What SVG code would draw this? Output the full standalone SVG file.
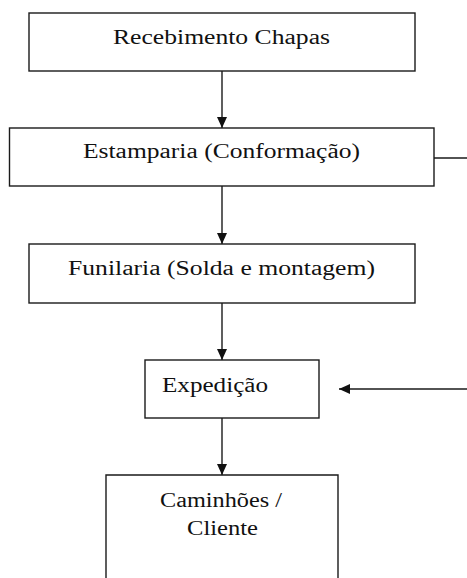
<svg xmlns="http://www.w3.org/2000/svg" width="467" height="578" viewBox="0 0 467 578">
<style>
.box{fill:#fff;stroke:#1a1a1a;stroke-width:1.4}
.lbl{font-family:"Liberation Serif","Times New Roman",serif;font-size:20.5px;fill:#111}
.con{fill:none;stroke:#1a1a1a;stroke-width:1.4}
</style>
<defs>
<marker id="ah" markerWidth="12" markerHeight="10" refX="11" refY="5" orient="auto" markerUnits="userSpaceOnUse">
<path d="M0,0 L11,5 L0,10 Z" fill="#111"/>
</marker>
</defs>
<rect width="467" height="578" fill="#fff"/>
<g id="connectors">
<line class="con" x1="222" y1="71" x2="222" y2="128" marker-end="url(#ah)"/>
<line class="con" x1="222" y1="186" x2="222" y2="244" marker-end="url(#ah)"/>
<line class="con" x1="222" y1="303" x2="222" y2="360" marker-end="url(#ah)"/>
<line class="con" x1="222" y1="418" x2="222" y2="475" marker-end="url(#ah)"/>
<line class="con" x1="434" y1="158" x2="467" y2="158"/>
<line class="con" x1="467" y1="389" x2="339" y2="389" marker-end="url(#ah)"/>
</g>
<g id="n1">
<rect class="box" x="29" y="13" width="386" height="58"/>
<text class="lbl" x="113" y="44" textLength="217" lengthAdjust="spacingAndGlyphs">Recebimento Chapas</text>
</g>
<g id="n2">
<rect class="box" x="9.5" y="128" width="424.5" height="58"/>
<text class="lbl" x="83" y="158" textLength="277" lengthAdjust="spacingAndGlyphs">Estamparia (Conformação)</text>
</g>
<g id="n3">
<rect class="box" x="29" y="244" width="386" height="59"/>
<text class="lbl" x="68" y="275" textLength="307" lengthAdjust="spacingAndGlyphs">Funilaria (Solda e montagem)</text>
</g>
<g id="n4">
<rect class="box" x="145" y="360" width="174" height="58"/>
<text class="lbl" x="162" y="392" textLength="106" lengthAdjust="spacingAndGlyphs">Expedição</text>
</g>
<g id="n5">
<path class="box" d="M106,579 V475 H338 V579"/>
<text class="lbl" x="160" y="507" textLength="122" lengthAdjust="spacingAndGlyphs">Caminhões /</text>
<text class="lbl" x="187" y="535" textLength="71" lengthAdjust="spacingAndGlyphs">Cliente</text>
</g>
</svg>
